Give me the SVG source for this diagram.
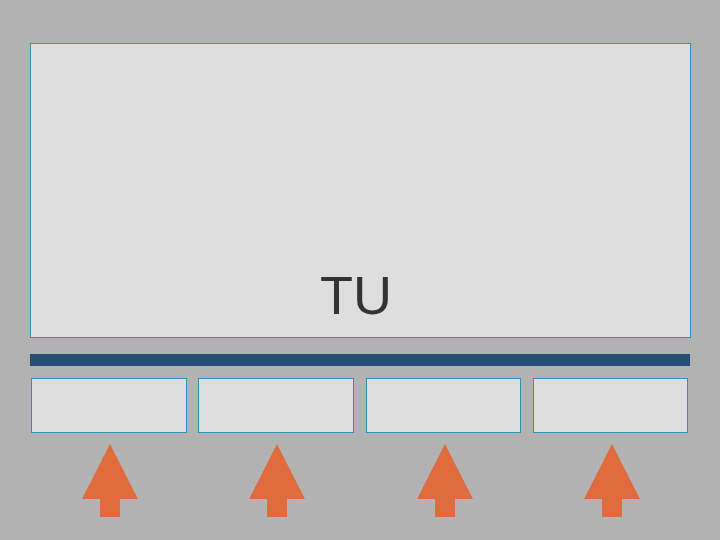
<svg xmlns="http://www.w3.org/2000/svg" width="720" height="540" viewBox="0 0 720 540">
<style>
.box{fill:#dedede;stroke:#3a8fb7;stroke-width:1}
.arrow{fill:#e06c3e}
.label{font-family:"Liberation Sans",Arial,sans-serif;font-size:54px;fill:#333333}
</style>
<defs>
<path id="up" class="arrow" d="M0,0 L28,55 L10,55 L10,73 L-10,73 L-10,55 L-28,55 Z"/>
</defs>
<rect width="720" height="540" fill="#b3b3b3"/>
<g id="main">
<rect class="box" x="30.5" y="43.5" width="660" height="294"/>
<text class="label" x="356" y="314" text-anchor="middle">TU</text>
</g>
<g id="bar">
<rect x="30" y="354" width="660" height="12" fill="#284e78"/>
</g>
<g id="slot1"><rect class="box" x="31.5" y="378.5" width="155" height="54"/></g>
<g id="slot2"><rect class="box" x="198.5" y="378.5" width="155" height="54"/></g>
<g id="slot3"><rect class="box" x="366.5" y="378.5" width="154" height="54"/></g>
<g id="slot4"><rect class="box" x="533.5" y="378.5" width="154" height="54"/></g>
<g id="connectors">
<use href="#up" x="110" y="444"/>
<use href="#up" x="277" y="444"/>
<use href="#up" x="445" y="444"/>
<use href="#up" x="612" y="444"/>
</g>
</svg>
